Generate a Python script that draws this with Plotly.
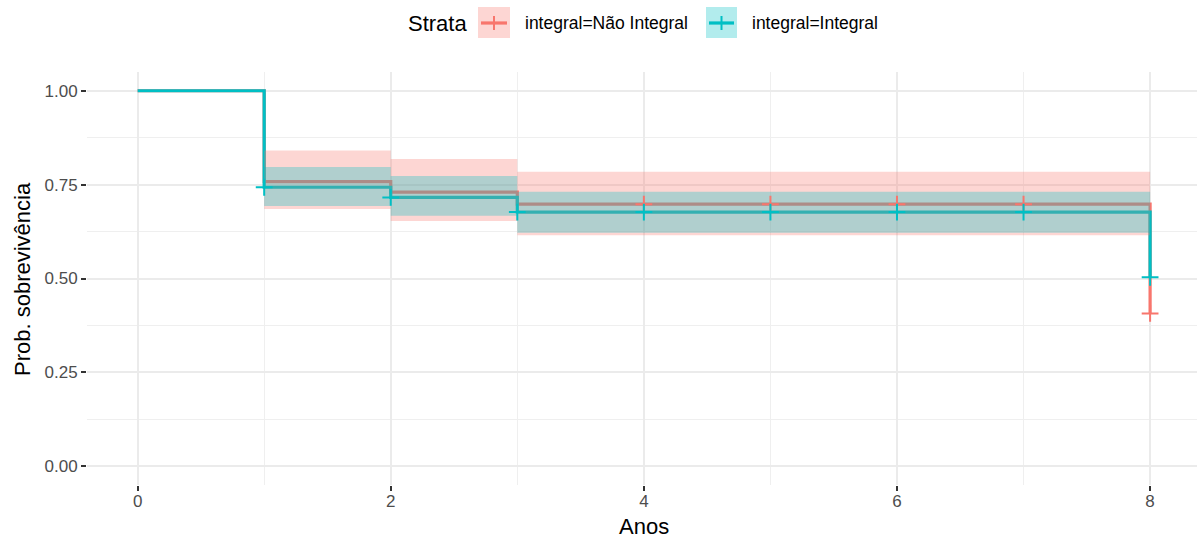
import plotly.graph_objects as go

# Kaplan-Meier estimates per stratum (time in years)
times = [0, 1, 2, 3, 8]

surv_nao = [1.00, 0.758, 0.730, 0.698, 0.407]
upper_nao = [1.00, 0.841, 0.818, 0.784, 0.784]
lower_nao = [1.00, 0.685, 0.653, 0.615, 0.615]
censor_t_nao = [4, 5, 6, 7, 8]
censor_s_nao = [0.698, 0.698, 0.698, 0.698, 0.407]

surv_int = [1.00, 0.743, 0.716, 0.677, 0.503]
upper_int = [1.00, 0.797, 0.773, 0.731, 0.731]
lower_int = [1.00, 0.693, 0.667, 0.622, 0.622]
censor_t_int = [1, 2, 3, 4, 5, 6, 7, 8]
censor_s_int = [0.743, 0.716, 0.677, 0.677, 0.677, 0.677, 0.677, 0.503]

x_ticks = [0, 2, 4, 6, 8]
y_ticks = [0.0, 0.25, 0.5, 0.75, 1.0]
y_tick_labels = ["0.00", "0.25", "0.50", "0.75", "1.00"]

strata = ["integral=Não Integral", "integral=Integral"]
RED = "#F8766D"
CYAN = "#00BFC4"
RED_FILL = "rgba(248,118,109,0.3)"
CYAN_FILL = "rgba(0,191,196,0.3)"

FONT = "Liberation Sans"

W, H = 1197, 541
ML, MR, MT, MB = 87, 0, 72, 56
PW, PH = W - ML - MR, H - MT - MB


def px(x):
    return (x - ML) / PW


def py(y):
    return (H - MB - y) / PH


fig = go.Figure()

# survival step curves
for s, col in [(surv_nao, RED), (surv_int, CYAN)]:
    fig.add_trace(go.Scatter(x=times, y=s, mode="lines", line=dict(color=col, width=3.2, shape="hv"),
                             showlegend=False, hoverinfo="skip"))

# confidence bands drawn over the curves
for up, lo, fc in [(upper_nao, lower_nao, RED_FILL), (upper_int, lower_int, CYAN_FILL)]:
    fig.add_trace(go.Scatter(x=times, y=up, mode="lines", line=dict(width=0, shape="hv"),
                             showlegend=False, hoverinfo="skip"))
    fig.add_trace(go.Scatter(x=times, y=lo, mode="lines", line=dict(width=0, shape="hv"),
                             fill="tonexty", fillcolor=fc, showlegend=False, hoverinfo="skip"))

# censoring marks
for ct, cs, col in [(censor_t_nao, censor_s_nao, RED), (censor_t_int, censor_s_int, CYAN)]:
    fig.add_trace(go.Scatter(x=ct, y=cs, mode="markers",
                             marker=dict(symbol="cross-thin", size=12, line=dict(color=col, width=2)),
                             showlegend=False, hoverinfo="skip"))

axis_common = dict(
    showline=False, zeroline=False,
    gridcolor="#EBEBEB", gridwidth=1.6,
    ticks="outside", ticklen=5, tickwidth=1.5, tickcolor="#333333",
    tickfont=dict(family=FONT, size=17, color="#4D4D4D"),
)

fig.update_xaxes(range=[-0.4, -0.4 + PW / 126.56], tickvals=x_ticks, ticklabelstandoff=-4,
                 minor=dict(dtick=1, tick0=0, showgrid=True, gridcolor="#EFEFEF", gridwidth=0.8, ticks=""),
                 **axis_common)
fig.update_yaxes(range=[-0.05, 1.05], tickvals=y_ticks, ticktext=y_tick_labels,
                 minor=dict(dtick=0.125, tick0=0, showgrid=True, gridcolor="#EFEFEF", gridwidth=0.8, ticks=""),
                 **axis_common)

annotations = [
    dict(text="Anos", x=px(644), y=py(526), xref="paper", yref="paper", showarrow=False,
         xanchor="center", yanchor="middle", font=dict(family=FONT, size=22, color="black")),
    dict(text="Prob. sobrevivência", x=px(22), y=py(279), xref="paper", yref="paper", showarrow=False,
         textangle=-90, xanchor="center", yanchor="middle", font=dict(family=FONT, size=22, color="black")),
    dict(text="Strata", x=px(406), y=py(23), xref="paper", yref="paper", showarrow=False,
         xanchor="left", yanchor="middle", font=dict(family=FONT, size=22, color="black")),
]

shapes = []
# legend keys
for (x0, x1), label, col, fc in [((478, 510), strata[0], RED, RED_FILL), ((706, 737), strata[1], CYAN, CYAN_FILL)]:
    shapes.append(dict(type="rect", xref="paper", yref="paper", x0=px(x0), x1=px(x1), y0=py(38), y1=py(7),
                       fillcolor=fc, line=dict(width=0)))
    shapes.append(dict(type="line", xref="paper", yref="paper", x0=px(x0 + 3), x1=px(x1 - 3), y0=py(23), y1=py(23),
                       line=dict(color=col, width=3.2)))
    xc = (x0 + x1) / 2
    shapes.append(dict(type="line", xref="paper", yref="paper", x0=px(xc), x1=px(xc), y0=py(16), y1=py(30),
                       line=dict(color=col, width=2)))
    annotations.append(dict(text=label, x=px(x1 + 13), y=py(23), xref="paper", yref="paper", showarrow=False,
                            xanchor="left", yanchor="middle", font=dict(family=FONT, size=17.5, color="black")))

fig.update_layout(
    width=W, height=H,
    margin=dict(l=ML, r=MR, t=MT, b=MB, autoexpand=False),
    paper_bgcolor="white", plot_bgcolor="white",
    showlegend=False,
    annotations=annotations, shapes=shapes,
    font=dict(family=FONT),
)

fig.write_html("out.html")
